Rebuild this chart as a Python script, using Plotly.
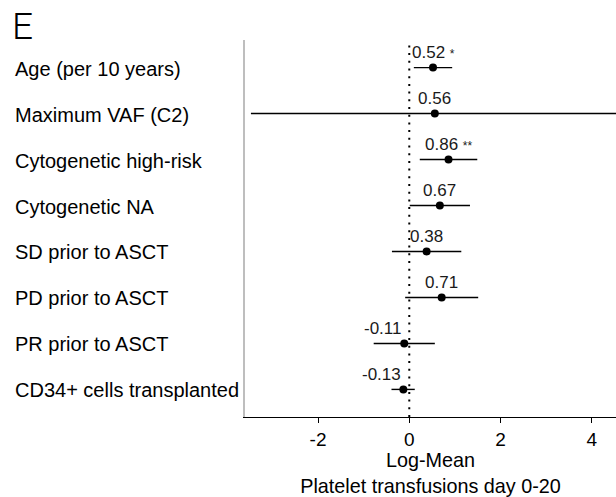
import plotly.graph_objects as go

# Regression terms (top to bottom)
terms = [
    "Age (per 10 years)",
    "Maximum VAF (C2)",
    "Cytogenetic high-risk",
    "Cytogenetic NA",
    "SD prior to ASCT",
    "PD prior to ASCT",
    "PR prior to ASCT",
    "CD34+ cells transplanted",
]
estimate = [0.52, 0.56, 0.86, 0.67, 0.38, 0.71, -0.11, -0.13]
ci_low = [0.10, -3.47, 0.23, 0.01, -0.38, -0.09, -0.78, -0.39]
ci_high = [0.94, 4.59, 1.49, 1.33, 1.14, 1.51, 0.56, 0.12]
stars = ["*", "", "**", "", "", "", "", ""]

x_ticks = [-2, 0, 2, 4]

FONT = "Liberation Sans, Arial, Helvetica, sans-serif"
rows = list(range(len(terms)))

fig = go.Figure()

# Confidence intervals as horizontal segments
for i in rows:
    fig.add_trace(go.Scatter(
        x=[ci_low[i], ci_high[i]], y=[i, i], mode="lines",
        line=dict(color="black", width=1.4),
        hoverinfo="skip", showlegend=False,
    ))

# Point estimates
fig.add_trace(go.Scatter(
    x=estimate, y=rows, mode="markers",
    marker=dict(color="black", size=8),
    showlegend=False,
))

# Reference line at zero
fig.add_shape(
    type="line", xref="x", yref="paper", x0=0, x1=0, y0=0, y1=1,
    line=dict(color="black", width=2, dash="2px,5.7px"), layer="below",
)

annotations = []
# Estimate labels above each point (significance stars drawn smaller)
for i in rows:
    v = estimate[i]
    txt = f"{v:.2f}" + (f" <span style='font-size:12px'>{stars[i]}</span>" if stars[i] else "")
    annotations.append(dict(
        x=v, y=i, xref="x", yref="y", text=txt, showarrow=False,
        xanchor="center" if v >= 0 else "right", yanchor="middle", yshift=15,
        font=dict(family=FONT, size=17, color="#1a1a1a"),
    ))

# Left-aligned term names
plot_left, plot_w = 245, 616 - 245
for i in rows:
    annotations.append(dict(
        x=(13 - plot_left) / plot_w, y=i, xref="paper", yref="y",
        text=terms[i], showarrow=False, xanchor="left", yanchor="middle",
        yshift=-1, font=dict(family=FONT, size=20, color="black"),
    ))

# Panel letter
annotations.append(dict(
    x=(10 - plot_left) / plot_w, y=1 + (40 - 3) / 377, xref="paper", yref="paper",
    text="E", showarrow=False, xanchor="left", yanchor="top",
    font=dict(family="Roboto, " + FONT, size=37, color="black", weight=300),
))

fig.update_layout(
    width=616, height=497,
    margin=dict(l=245, r=0, t=40, b=80),
    plot_bgcolor="white", paper_bgcolor="white",
    font=dict(family=FONT, size=18.5, color="black"),
    annotations=annotations,
    xaxis=dict(
        range=[-3.6, 4.53], tickvals=x_ticks, ticktext=[str(t) for t in x_ticks],
        showgrid=False, zeroline=False, showline=True, linecolor="black", linewidth=1.3,
        ticks="outside", ticklen=5, tickwidth=1, tickcolor="black",
        tickfont=dict(family=FONT, size=19, color="black"),
        title=dict(text="Log-Mean<br>Platelet transfusions day 0-20",
                   font=dict(family=FONT, size=19.8, color="black"), standoff=6),
    ),
    yaxis=dict(
        range=[len(terms) - 0.4, -0.6], showticklabels=False, showgrid=False,
        zeroline=False, showline=True, linecolor="#BEBEBE", linewidth=1.5, ticks="",
    ),
)

fig.write_html("out.html")
